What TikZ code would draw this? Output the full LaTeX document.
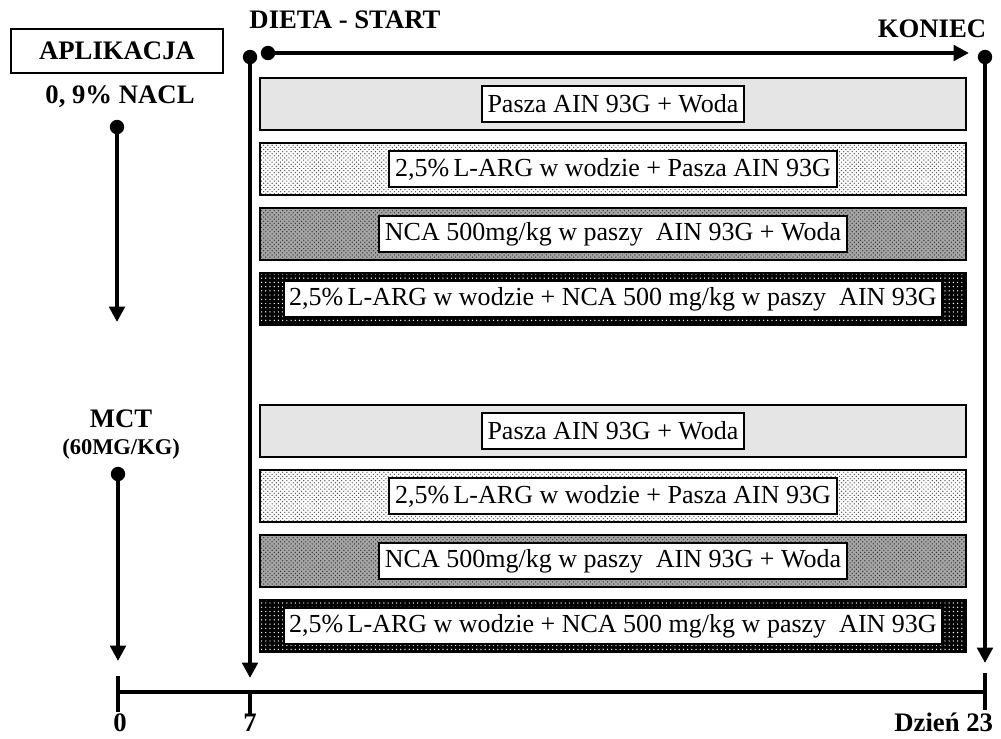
\documentclass[tikz,border=0pt]{standalone}
\usepackage{fontspec}
\setmainfont{Liberation Serif}
\usetikzlibrary{arrows.meta,patterns}

\definecolor{barlight}{RGB}{229,229,229}
\definecolor{barmid}{RGB}{165,165,165}
\definecolor{dotgray}{RGB}{80,80,80}

\begin{document}
\begin{tikzpicture}[x=0.025cm, y=-0.025cm,
    bar/.style={draw=black, line width=1.3pt, minimum width=17.65cm, minimum height=1.3cm, inner sep=0pt},
    lbl/.style={draw=black, fill=white, line width=1.4pt, font=\fontsize{18.5}{20}\selectfont, minimum height=0.92cm, inner xsep=4pt, inner ysep=0pt},
    hdr/.style={font=\fontsize{19}{22}\selectfont\bfseries},
    dot/.style={circle, fill=black, inner sep=0pt, minimum size=0.36cm},
    timeline/.style={line width=2.8pt},
    timearrow/.style={line width=2.8pt, -{Triangle[length=11pt,width=11pt]}}]
\useasboundingbox (0,0) rectangle (1001,738);

% Panel A: aplikacja
\node[draw=black, line width=1.2pt, minimum width=5.3cm, minimum height=1.1cm, hdr] (aplik) at (117,51) {APLIKACJA};
\node[hdr] (nacl) at (120,97) {0, 9\% NACL};
\node[dot] (nacl dot) at (117,127) {};
\coordinate (nacl end) at (117,322);
\draw[timearrow] (nacl dot) -- (nacl end);

\node[hdr] (mct) at (121,419) {MCT};
\node[font=\fontsize{16}{18}\selectfont\bfseries] (mct dose) at (121,449) {(60MG/KG)};
\node[dot] (mct dot) at (118,474) {};
\coordinate (mct end) at (118,661);
\draw[timearrow] (mct dot) -- (mct end);

% Panel B: dieta
\node[hdr] (start) at (345,20) {DIETA - START};
\node[hdr] (koniec) at (932,29) {KONIEC};
\node[dot] (start dot) at (250,57) {};
\node[dot] (diet dot) at (268,53) {};
\node[dot] (end dot) at (985,57) {};
\coordinate (start end) at (250,678);
\coordinate (diet end) at (969,53);
\coordinate (end end) at (985,663);
\draw[timearrow] (start dot) -- (start end);
\draw[timearrow] (diet dot) -- (diet end);
\draw[timearrow] (end dot) -- (end end);

% grupa 1 (0,9% NaCl)
\node[bar, fill=barlight] (bar1) at (613,104) {};
\node[lbl] (txt1) at (bar1.center) {Pasza AIN 93G + Woda};
\node[bar, preaction={fill=white}, pattern=crosshatch dots, pattern color=dotgray] (bar2) at (613,169) {};
\node[lbl] (txt2) at (bar2.center) {2,5\%\,L-ARG w wodzie + Pasza AIN 93G};
\node[bar, preaction={fill=barmid}, pattern=crosshatch dots, pattern color=black!80] (bar3) at (613,234) {};
\node[lbl] (txt3) at (bar3.center) {NCA 500mg/kg w paszy\ \ AIN 93G + Woda};
\node[bar, preaction={fill=black}, pattern=dots, pattern color=white] (bar4) at (613,299) {};
\node[lbl] (txt4) at (bar4.center) {2,5\%\,L-ARG w wodzie + NCA 500 mg/kg w paszy\ \ AIN 93G};

% grupa 2 (MCT)
\node[bar, fill=barlight] (bar5) at (613,431) {};
\node[lbl] (txt5) at (bar5.center) {Pasza AIN 93G + Woda};
\node[bar, preaction={fill=white}, pattern=crosshatch dots, pattern color=dotgray] (bar6) at (613,496) {};
\node[lbl] (txt6) at (bar6.center) {2,5\%\,L-ARG w wodzie + Pasza AIN 93G};
\node[bar, preaction={fill=barmid}, pattern=crosshatch dots, pattern color=black!80] (bar7) at (613,561) {};
\node[lbl] (txt7) at (bar7.center) {NCA 500mg/kg w paszy\ \ AIN 93G + Woda};
\node[bar, preaction={fill=black}, pattern=dots, pattern color=white] (bar8) at (613,626) {};
\node[lbl] (txt8) at (bar8.center) {2,5\%\,L-ARG w wodzie + NCA 500 mg/kg w paszy\ \ AIN 93G};

% os czasu
\coordinate (day0) at (118,692);
\coordinate (day7) at (250,692);
\coordinate (day23) at (985,692);
\draw[timeline] (day0) -- (day23);
\draw[timeline] (118,676) -- (118,712);
\draw[timeline] (250,692) -- (250,714);
\draw[timeline] (985,673) -- (985,710);
\node[hdr, inner ysep=1pt] (lab0) at (120,723) {0};
\node[hdr, inner ysep=1pt] (lab7) at (250,723) {7};
\node[hdr, anchor=east] (lab23) at (998,722) {Dzień 23};
\end{tikzpicture}
\end{document}
